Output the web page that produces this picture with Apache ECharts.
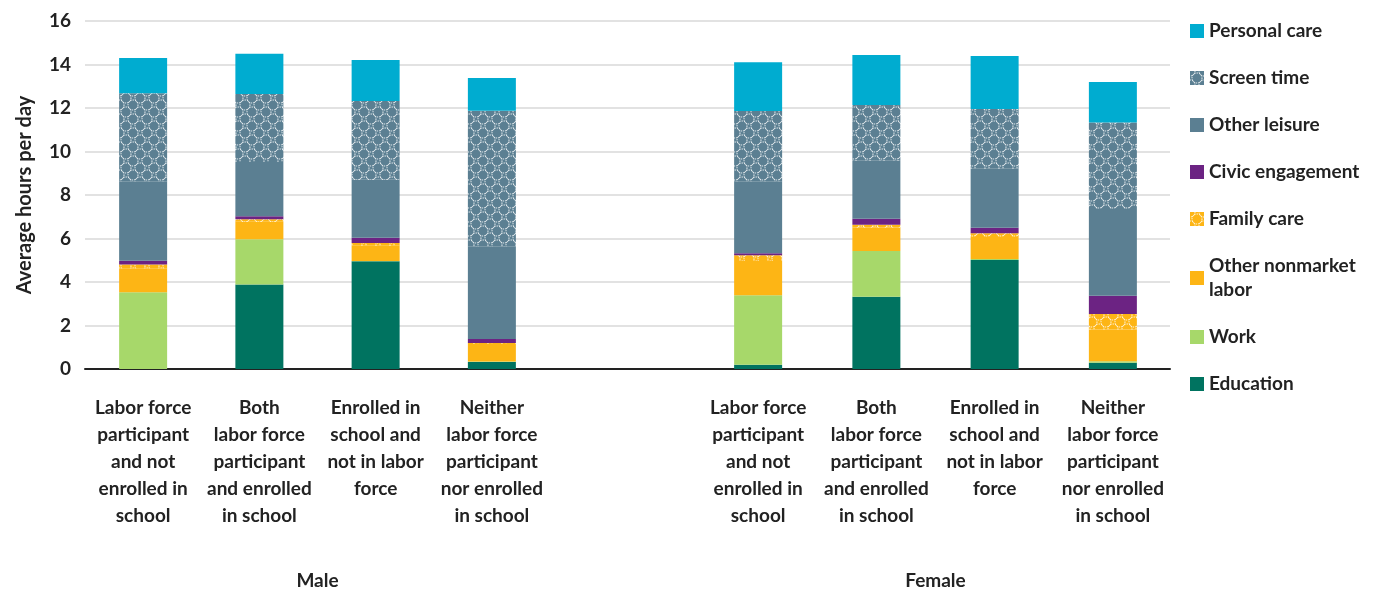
<!DOCTYPE html>
<html>
<head>
<meta charset="utf-8">
<script src="https://cdn.jsdelivr.net/npm/echarts@6/dist/echarts.min.js"></script>
<style>html,body{margin:0;padding:0;background:#fff}#c{width:1398px;height:590px}</style>
</head>
<body>
<div id="c"></div>
<script>
var categories = ['Labor force\nparticipant\nand not\nenrolled in\nschool', 'Both\nlabor force\nparticipant\nand enrolled\nin school', 'Enrolled in\nschool and\nnot in labor\nforce', 'Neither\nlabor force\nparticipant\nnor enrolled\nin school'];
var groups = ['Male', 'Female'];
var seriesNames = ['Education', 'Work', 'Other nonmarket labor', 'Family care', 'Civic engagement', 'Other leisure', 'Screen time', 'Personal care'];
// values per group, in the order of seriesNames
var maleEducation = [0, 3.89, 4.95, 0.32];
var maleWork = [3.53, 2.07, 0.02, 0.02];
var maleNonmarket = [1.10, 0.81, 0.70, 0.81];
var maleFamily = [0.18, 0.11, 0.12, 0.05];
var maleCivic = [0.17, 0.14, 0.25, 0.18];
var maleLeisure = [3.65, 2.50, 2.66, 4.26];
var maleScreen = [4.05, 3.12, 3.62, 6.23];
var malePersonal = [1.62, 1.86, 1.89, 1.51];
var femaleEducation = [0.20, 3.32, 5.01, 0.29];
var femaleWork = [3.19, 2.11, 0.05, 0.07];
var femaleNonmarket = [1.58, 1.08, 1.01, 1.46];
var femaleFamily = [0.26, 0.12, 0.17, 0.71];
var femaleCivic = [0.09, 0.28, 0.26, 0.84];
var femaleLeisure = [3.31, 2.67, 2.71, 3.99];
var femaleScreen = [3.23, 2.56, 2.74, 3.97];
var femalePersonal = [2.24, 2.30, 2.44, 1.87];

var maleData = [maleEducation, maleWork, maleNonmarket, maleFamily, maleCivic, maleLeisure, maleScreen, malePersonal];
var femaleData = [femaleEducation, femaleWork, femaleNonmarket, femaleFamily, femaleCivic, femaleLeisure, femaleScreen, femalePersonal];

function lattice(base) {
  var c = document.createElement('canvas');
  c.width = 14; c.height = 14;
  var g = c.getContext('2d');
  g.fillStyle = base;
  g.fillRect(0, 0, 14, 14);
  g.strokeStyle = 'rgba(255,255,255,0.9)';
  g.lineWidth = 1;
  g.setLineDash([1.5, 1]);
  [[0, 0], [14, 0], [0, 14], [14, 14], [7, 7]].forEach(function (p) {
    g.beginPath();
    g.arc(p[0], p[1], 5, 0, Math.PI * 2);
    g.stroke();
  });
  return { image: c, repeat: 'repeat' };
}

var colors = ['#007360', '#a7d86a', '#fdb515', lattice('#fdb515'), '#6c2383', '#5b7f92', lattice('#5b7f92'), '#00acd0'];

var chart = echarts.init(document.getElementById('c'));
var font = 'Lato';
var series = [];
[maleData, femaleData].forEach(function (d, gi) {
  seriesNames.forEach(function (n, i) {
    series.push({
      name: n,
      type: 'bar',
      stack: 'g' + gi,
      xAxisIndex: gi + 1,
      yAxisIndex: gi + 1,
      barWidth: 48,
      itemStyle: { color: colors[i] },
      data: d[i]
    });
  });
});

var hiddenY = { type: 'value', min: 0, max: 16, show: false };
var catX = function (gi) {
  return {
    type: 'category', gridIndex: gi + 1, data: categories,
    axisLine: { show: false }, axisTick: { show: false },
    axisLabel: { interval: 0, fontFamily: font, fontWeight: 'bold', fontSize: 19, color: '#222', lineHeight: 27, margin: 25 },
    name: groups[gi], nameLocation: 'middle', nameGap: 202,
    nameTextStyle: { fontFamily: font, fontWeight: 'bold', fontSize: 19, color: '#222' }
  };
};

chart.setOption({
  animation: false,
  legend: {
    orient: 'vertical', left: 1185, top: 14, itemGap: 23, itemWidth: 14, itemHeight: 14,
    icon: 'rect',
    data: seriesNames.slice().reverse().map(function (n) {
      return { name: n };
    }),
    formatter: function (n) { return n === 'Other nonmarket labor' ? 'Other nonmarket\nlabor' : n; },
    textStyle: { fontFamily: font, fontWeight: 'bold', fontSize: 19, color: '#222', lineHeight: 24 }
  },
  grid: [
    { left: 85, right: 228, top: 21, bottom: 221, outerBoundsMode: 'none' },
    { left: 85, width: 465, top: 21, bottom: 221, outerBoundsMode: 'none' },
    { left: 699, width: 473, top: 21, bottom: 221, outerBoundsMode: 'none' }
  ],
  xAxis: [
    { type: 'category', gridIndex: 0, data: [''], axisTick: { show: false }, axisLabel: { show: false },
      axisLine: { lineStyle: { color: '#222', width: 2 } } },
    catX(0), catX(1)
  ],
  yAxis: [
    { type: 'value', gridIndex: 0, min: 0, max: 16, interval: 2,
      name: 'Average hours per day', nameLocation: 'middle', nameGap: 50,
      nameTextStyle: { fontFamily: font, fontWeight: 'bold', fontSize: 20, color: '#222' },
      axisLabel: { fontFamily: font, fontWeight: 'bold', fontSize: 19, color: '#222', margin: 14 },
      splitLine: { lineStyle: { color: '#d9d9d9', width: 1.5 } },
      axisLine: { show: false }, axisTick: { show: false } },
    Object.assign({ gridIndex: 1 }, hiddenY),
    Object.assign({ gridIndex: 2 }, hiddenY)
  ],
  series: series
});
</script>
</body>
</html>
